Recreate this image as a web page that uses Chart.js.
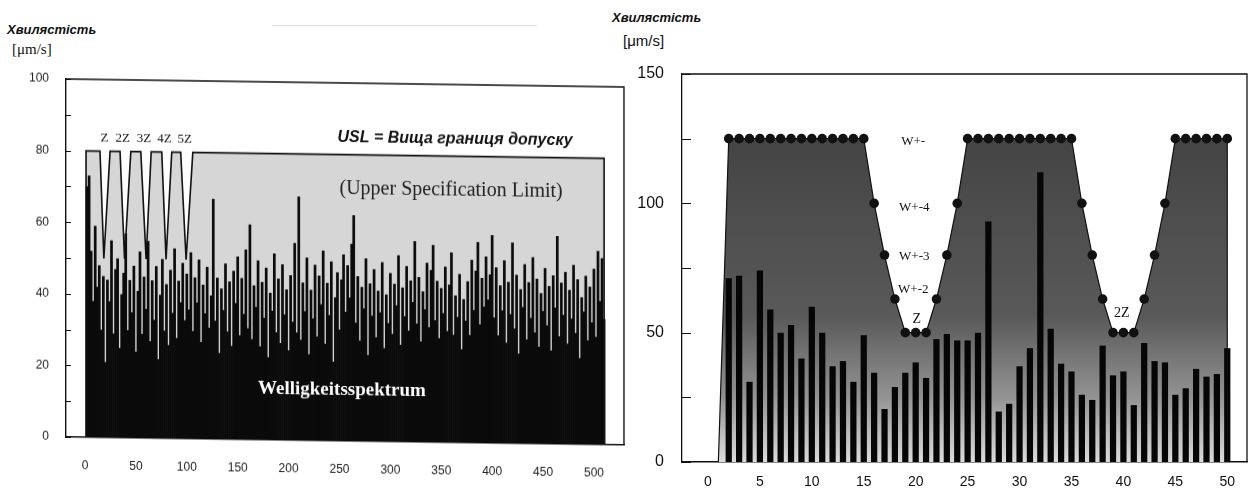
<!DOCTYPE html>
<html>
<head>
<meta charset="utf-8">
<script src="https://cdn.jsdelivr.net/npm/chart.js@4.4.1/dist/chart.umd.min.js"></script>
<style>
  html, body { margin: 0; padding: 0; background: #fff; }
  body { width: 1249px; height: 491px; position: relative; overflow: hidden;
         font-family: "Liberation Sans", Arial, sans-serif; color: #111; }
  .hdr { position: absolute; font-weight: bold; font-style: italic; font-size: 13px; line-height: 14px; }
  .unit { position: absolute; font-size: 15px; line-height: 17px; }
  #leftBox { position: absolute; left: 0; top: 60px; width: 640px; height: 431px;
             transform-origin: 66px 0; transform: skewY(0.82deg); }
  #rightBox { position: absolute; left: 630px; top: 50px; width: 619px; height: 441px; }
</style>
</head>
<body>
<div class="hdr" style="left:7px;top:23px">Хвилястість</div>
<div class="unit" style="left:12px;top:41px;font-family:'Liberation Serif',serif">[μm/s]</div>
<div class="hdr" style="left:612px;top:11px">Хвилястість</div>
<div class="unit" style="left:623px;top:32px">[μm/s]</div>
<div style="position:absolute;left:272px;top:25px;width:265px;border-top:1px solid #dcdcdc"></div>

<div id="leftBox"><canvas id="left" width="640" height="431"></canvas></div>
<div id="rightBox"><canvas id="right" width="619" height="441"></canvas></div>

<script>
// ---- left chart: ripple spectrum with the USL ----
const spectrumStart = 2;
const spectrumStep = 2;
const spectrumValues = [
  70, 73, 52, 38, 59, 42, 48, 30, 45, 21, 44, 38, 55, 29, 47, 50, 25, 40, 46, 57, 30, 44, 35, 48, 24,
  41, 52, 29, 45, 36, 55, 27, 44, 33, 48, 22, 40, 50, 30, 43, 26, 47, 35, 53, 28, 44, 38, 49, 33, 46,
  36, 52, 30, 45, 38, 50, 27, 43, 35, 48, 31, 40, 67, 33, 45, 24, 42, 36, 49, 30, 44, 26, 47, 38, 51,
  29, 45, 35, 53, 31, 60, 28, 43, 37, 50, 26, 44, 34, 48, 23, 41, 36, 52, 30, 45, 27, 49, 35, 42, 25,
  46, 33, 55, 30, 68, 28, 44, 36, 51, 24, 42, 34, 49, 29, 46, 38, 53, 27, 44, 35, 50, 22, 40, 47, 31,
  45, 52, 36, 49, 40, 55, 63, 33, 46, 28, 43, 37, 51, 24, 44, 35, 48, 29, 42, 36, 50, 26, 41, 33, 47,
  30, 44, 38, 52, 27, 43, 35, 49, 31, 45, 39, 56, 33, 46, 28, 42, 37, 50, 32, 48, 55, 34, 45, 29, 43,
  36, 49, 31, 44, 53, 30, 41, 35, 47, 26, 40, 34, 45, 30, 51, 37, 48, 56, 33, 46, 38, 52, 40, 47, 58,
  35, 49, 30, 44, 37, 51, 28, 45, 36, 56, 32, 47, 25, 43, 38, 50, 29, 45, 35, 52, 31, 46, 27, 42, 37,
  49, 33, 44, 26, 47, 38, 58, 30, 45, 36, 48, 28, 43, 35, 50, 31, 46, 24, 41, 37, 47, 29, 44, 34, 49,
  30, 54, 40, 52, 35
];
const uslX = [1, 1, 14.7, 18.5, 24.6, 34.4, 38.8, 45, 54.8, 60, 65, 75.4, 79.6, 85.2, 94, 99.3, 105.9, 510, 510];
const uslY = [0, 80, 80, 50, 80, 80, 50, 80, 80, 50, 80, 80, 50, 80, 80, 50, 80, 80, 0];
const leftXTicks = [0, 50, 100, 150, 200, 250, 300, 350, 400, 450, 500];
const leftYTicks = [0, 10, 20, 30, 40, 50, 60, 70, 80, 90, 100];
const notchLabels = ['Z', '2Z', '3Z', '4Z', '5Z'];
const notchLabelX = [19, 37, 58, 78, 98];

// ---- right chart: ripple bars with the limit curve ----
const barX = [2, 3, 4, 5, 6, 7, 8, 9, 10, 11, 12, 13, 14, 15, 16, 17, 18, 19, 20, 21, 22, 23, 24, 25,
  26, 27, 28, 29, 30, 31, 32, 33, 34, 35, 36, 37, 38, 39, 40, 41, 42, 43, 44, 45, 46, 47, 48, 49, 50];
const barValues = [71, 72, 31, 74, 59, 50, 53, 40, 60, 50, 37, 39, 31, 49, 34.5, 20.5, 29, 34.5, 38.5, 32.5,
  47.5, 49.5, 47, 47, 50, 93, 19.5, 22.5, 37, 44, 112, 51.5, 38, 35, 26, 24, 45, 33.5, 35, 22, 46, 39,
  38.5, 26, 28.5, 36, 33, 34, 44];
const limitX = [1, 2, 3, 4, 5, 6, 7, 8, 9, 10, 11, 12, 13, 14, 15, 16, 17, 18, 19, 20, 21, 22, 23, 24,
  25, 26, 27, 28, 29, 30, 31, 32, 33, 34, 35, 36, 37, 38, 39, 40, 41, 42, 43, 44, 45, 46, 47, 48, 49, 50, 50];
const limitY = [0, 125, 125, 125, 125, 125, 125, 125, 125, 125, 125, 125, 125, 125, 125, 100, 80, 63, 50, 50, 50, 63, 80, 100,
  125, 125, 125, 125, 125, 125, 125, 125, 125, 125, 125, 100, 80, 63, 50, 50, 50, 63, 80, 100, 125, 125, 125, 125, 125, 125, 0];
const rightXTicks = [0, 5, 10, 15, 20, 25, 30, 35, 40, 45, 50];
const rightYTicks = [0, 25, 50, 75, 100, 125, 150];

Chart.defaults.font.family = '"Liberation Sans", Arial, sans-serif';
Chart.defaults.color = '#111';

// frame on top/right + small ticks pointing into the plot
const framePlugin = {
  id: 'frame',
  afterDraw(chart, args, opts) {
    const { ctx, chartArea: a, scales: { y } } = chart;
    ctx.save();
    ctx.strokeStyle = '#111';
    ctx.lineWidth = opts.width;
    ctx.beginPath();
    ctx.moveTo(a.left, a.top);
    ctx.lineTo(a.right, a.top);
    ctx.lineTo(a.right, a.bottom);
    ctx.stroke();
    ctx.lineWidth = 1;
    y.ticks.forEach(t => {
      const py = Math.round(y.getPixelForValue(t.value)) + 0.5;
      ctx.beginPath();
      ctx.moveTo(a.left, py);
      ctx.lineTo(a.left + opts.tick, py);
      ctx.stroke();
    });
    ctx.restore();
  }
};

// text written inside the plot, placed in data units
const notesPlugin = {
  id: 'notes',
  afterDatasetsDraw(chart, args, opts) {
    const { ctx, scales: { x, y } } = chart;
    ctx.save();
    ctx.textBaseline = 'middle';
    opts.items.forEach(n => {
      ctx.font = n.font;
      ctx.fillStyle = n.color || '#111';
      ctx.textAlign = n.align || 'left';
      ctx.fillText(n.text, x.getPixelForValue(n.x), y.getPixelForValue(n.y));
    });
    ctx.restore();
  }
};

const leftNotes = notchLabels.map((t, i) => ({
  text: t, x: notchLabelX[i], y: 83.5, align: 'center', font: '13px "Liberation Serif", serif'
})).concat([
  { text: 'USL = Вища границя допуску', x: 248, y: 84.7, font: 'bold italic 16px "Liberation Sans", Arial' },
  { text: '(Upper Specification Limit)', x: 250, y: 70.6, font: '20px "Liberation Serif", serif', color: '#222' },
  { text: 'Welligkeitsspektrum', x: 170, y: 14.2, font: 'bold 19px "Liberation Serif", serif', color: '#fff' }
]);

new Chart(document.getElementById('left'), {
  type: 'bar',
  data: {
    datasets: [
      {
        type: 'line',
        data: uslX.map((x, i) => ({ x: x, y: uslY[i] })),
        borderColor: '#111',
        borderWidth: 1.6,
        pointRadius: 0,
        tension: 0,
        fill: 'origin',
        backgroundColor: '#d6d6d6',
        order: 0
      },
      {
        data: spectrumValues.map((v, i) => ({ x: spectrumStart + i * spectrumStep, y: v })),
        backgroundColor: '#0b0b0b',
        barPercentage: 1,
        categoryPercentage: 1,
        order: 1
      }
    ]
  },
  options: {
    responsive: false,
    animation: false,
    layout: { padding: { top: 19, right: 16, left: 0, bottom: 0 } },
    plugins: {
      legend: { display: false },
      tooltip: { enabled: false },
      filler: { drawTime: 'beforeDatasetsDraw' },
      frame: { width: 1.4, tick: 5 },
      notes: { items: leftNotes }
    },
    scales: {
      x: {
        type: 'linear',
        min: -18.7,
        max: 529.5,
        offset: false,
        afterBuildTicks: s => { s.ticks = leftXTicks.map(v => ({ value: v })); },
        afterFit: s => { s.height = 54; },
        grid: { display: false },
        border: { display: true, color: '#111', width: 1.4 },
        ticks: { autoSkip: false, maxRotation: 0, padding: 13, font: { size: 12 }, color: '#222' }
      },
      y: {
        min: 0,
        max: 100,
        afterBuildTicks: s => { s.ticks = leftYTicks.map(v => ({ value: v })); },
        afterFit: s => { s.width = 66; },
        grid: { display: false },
        border: { display: true, color: '#111', width: 1.4 },
        ticks: { padding: 9, font: { size: 12 }, color: '#222',
                 callback: v => (v % 20 === 0 ? v : '') }
      }
    }
  },
  plugins: [framePlugin, notesPlugin]
});

const rightNotes = [
  { text: 'W+-', x: 18.6, y: 123.7, font: '13px "Liberation Serif", serif' },
  { text: 'W+-4', x: 18.4, y: 98.4, font: '13px "Liberation Serif", serif' },
  { text: 'W+-3', x: 18.4, y: 79.6, font: '13px "Liberation Serif", serif' },
  { text: 'W+-2', x: 18.3, y: 66.5, font: '13px "Liberation Serif", serif' },
  { text: 'Z', x: 20.1, y: 55.3, align: 'center', font: '14px "Liberation Serif", serif' },
  { text: '2Z', x: 39.85, y: 57.5, align: 'center', font: '14px "Liberation Serif", serif' }
];

new Chart(document.getElementById('right'), {
  type: 'bar',
  data: {
    datasets: [
      {
        type: 'line',
        data: limitX.map((x, i) => ({ x: x, y: limitY[i] })),
        borderColor: '#111',
        borderWidth: 1.2,
        tension: 0,
        pointRadius: c => (c.raw && c.raw.y > 0 ? 4.8 : 0),
        pointBackgroundColor: '#111',
        pointBorderWidth: 0,
        fill: 'origin',
        backgroundColor: c => {
          const { ctx, chartArea, scales } = c.chart;
          if (!chartArea) return '#666';
          const y = scales.y;
          const g = ctx.createLinearGradient(0, y.getPixelForValue(125), 0, y.getPixelForValue(0));
          g.addColorStop(0, '#444');
          g.addColorStop(0.55, '#595959');
          g.addColorStop(0.8, '#939393');
          g.addColorStop(1, '#dcdcdc');
          return g;
        },
        order: 0
      },
      {
        data: barX.map((x, i) => ({ x: x, y: barValues[i] })),
        backgroundColor: '#060606',
        barPercentage: 0.6,
        categoryPercentage: 1,
        order: 1
      }
    ]
  },
  options: {
    responsive: false,
    animation: false,
    layout: { padding: { top: 24, right: 2, left: 0, bottom: 0 } },
    plugins: {
      legend: { display: false },
      tooltip: { enabled: false },
      filler: { drawTime: 'beforeDatasetsDraw' },
      frame: { width: 1.3, tick: 9 },
      notes: { items: rightNotes }
    },
    scales: {
      x: {
        type: 'linear',
        min: -2.5,
        max: 51.9,
        offset: false,
        afterBuildTicks: s => { s.ticks = rightXTicks.map(v => ({ value: v })); },
        afterFit: s => { s.height = 29; },
        grid: { display: false },
        border: { display: true, color: '#111', width: 1.5 },
        ticks: { autoSkip: false, maxRotation: 0, padding: 4, font: { size: 14 } }
      },
      y: {
        min: 0,
        max: 150,
        afterBuildTicks: s => { s.ticks = rightYTicks.map(v => ({ value: v })); },
        afterFit: s => { s.width = 52; },
        grid: { display: false },
        border: { display: true, color: '#111', width: 1.3 },
        ticks: { padding: 10, font: { size: 16 },
                 callback: v => (v % 50 === 0 ? v : '') }
      }
    }
  },
  plugins: [framePlugin, notesPlugin]
});
</script>
</body>
</html>
